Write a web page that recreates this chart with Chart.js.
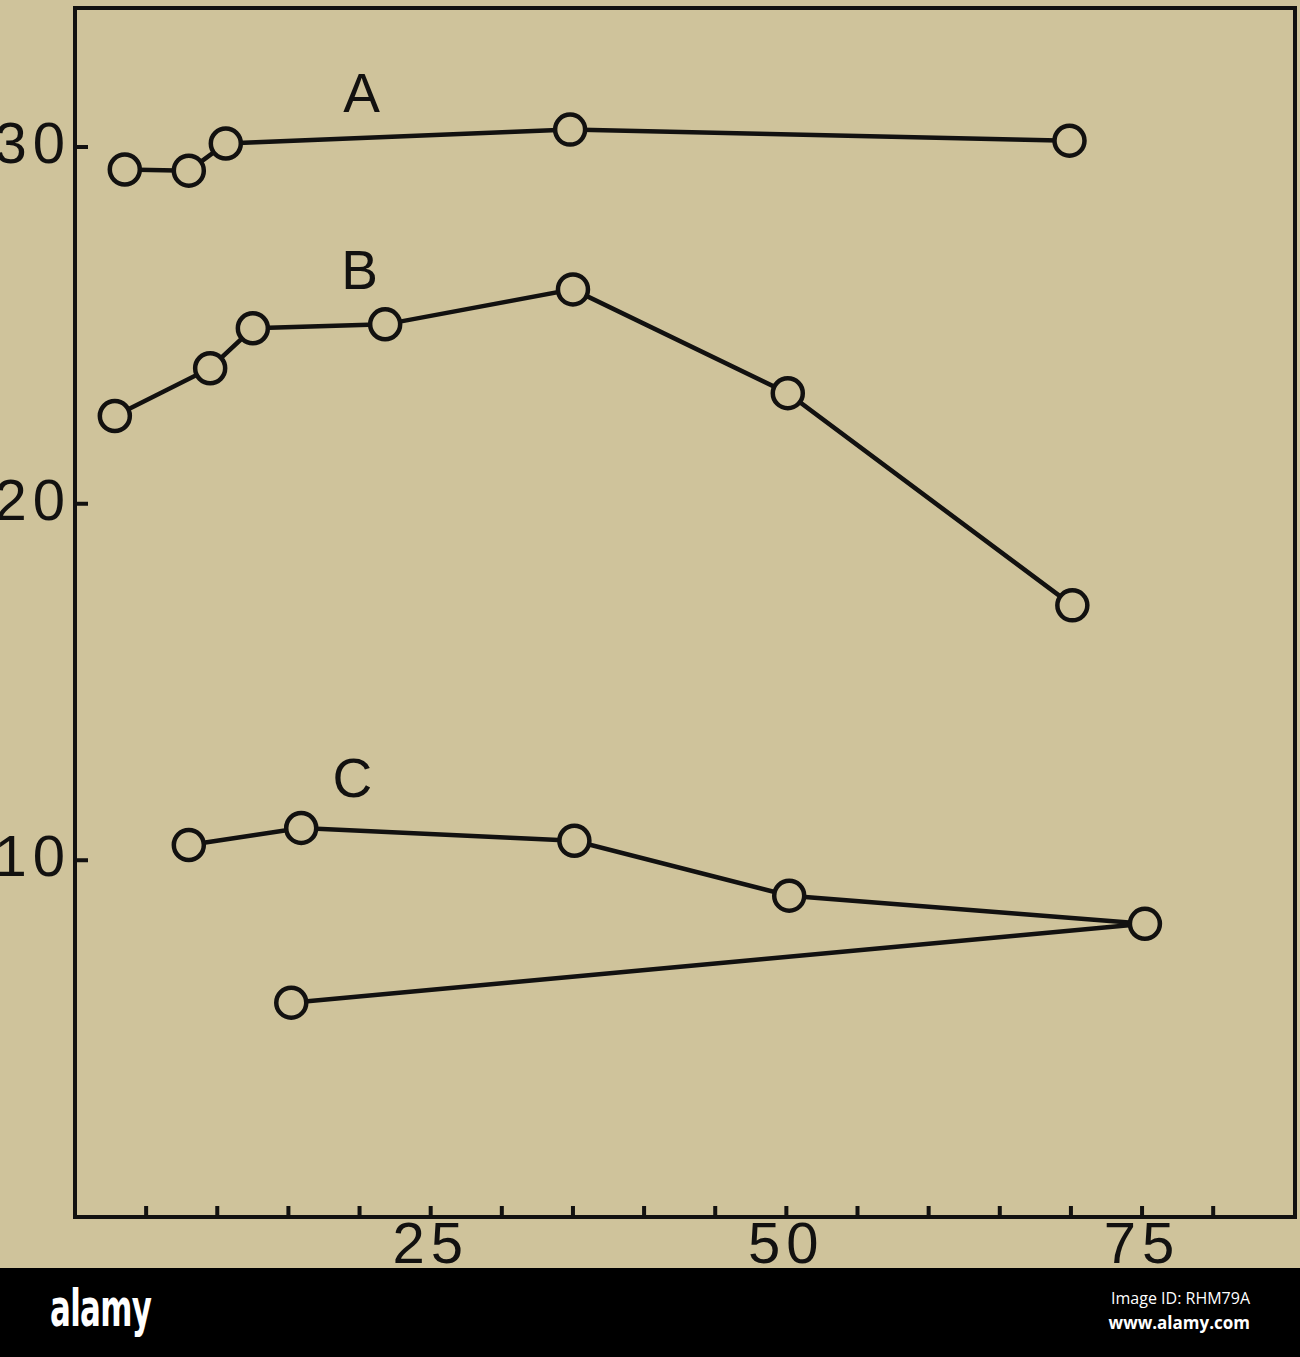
<!DOCTYPE html>
<html>
<head>
<meta charset="utf-8">
<script src="https://cdn.jsdelivr.net/npm/chart.js@4/dist/chart.umd.min.js"></script>
<style>
  html, body { margin: 0; padding: 0; background: #000; }
  #wrap { position: relative; width: 1300px; height: 1357px; overflow: hidden; background: #000; }
  #plot { position: absolute; left: 0; top: 0; width: 1300px; height: 1268px; background: #cfc39b; }
  #footer { position: absolute; left: 0; top: 1268px; width: 1300px; height: 89px; background: #000; }
  #logo { position: absolute; left: 50px; top: 14px; color: #fff; font-family: "Liberation Sans Narrow", "DejaVu Sans Condensed", "Liberation Sans", sans-serif; font-weight: bold; font-size: 52px; line-height: 1; transform: scaleX(0.66); transform-origin: left top; letter-spacing: -1px; }
  #imgid { position: absolute; right: 50px; top: 22px; color: #fff; font-family: "Open Sans", "DejaVu Sans", sans-serif; font-size: 16px; line-height: 1; }
  #site { position: absolute; right: 50px; top: 46px; color: #fff; font-family: "Open Sans", "DejaVu Sans", sans-serif; font-weight: bold; font-size: 17px; line-height: 1; }
</style>
</head>
<body>
<div id="wrap">
  <div id="plot"><canvas id="c" width="1300" height="1268"></canvas></div>
  <div id="footer">
    <div id="logo">alamy</div>
    <div id="imgid">Image ID: RHM79A</div>
    <div id="site">www.alamy.com</div>
  </div>
</div>
<script>
// ---- data ----
const seriesNames = ['A', 'B', 'C'];
const aX = [3.5, 8.0, 10.6, 34.8, 69.9];
const aY = [29.37, 29.34, 30.10, 30.49, 30.18];
const bX = [2.8, 9.5, 12.5, 21.8, 35.0, 50.1, 70.1];
const bY = [22.46, 23.80, 24.92, 25.03, 26.01, 23.10, 17.15];
const cX = [8.0, 15.9, 35.1, 50.2, 75.2, 15.2];
const cY = [10.43, 10.91, 10.55, 9.01, 8.22, 6.01];
const xTickLabels = [25, 50, 75];
const xTickMarks = [5, 10, 15, 20, 25, 30, 35, 40, 45, 50, 55, 60, 65, 70, 75, 80];
const yTickLabels = [10, 20, 30];
const xRange = [0, 85.75];
const yRange = [0, 33.9];
// where the series letters sit, in data units
const nameX = [20.15, 20.0, 19.5];
const nameY = [31.41, 26.46, 12.2];

const ink = '#121110';
const paper = '#cfc39b';

function pts(xs, ys) { return xs.map((v, i) => ({ x: v, y: ys[i] })); }
const seriesData = [pts(aX, aY), pts(bX, bY), pts(cX, cY)];

const framePlugin = {
  id: 'frame',
  beforeDraw(chart) {
    chart.ctx.letterSpacing = '6px';
  },
  afterDraw(chart) {
    const { ctx, chartArea: a, scales: { x, y } } = chart;
    ctx.save();
    ctx.letterSpacing = '0px';
    ctx.strokeStyle = ink;
    ctx.lineWidth = 4;
    ctx.strokeRect(a.left, a.top, a.right - a.left, a.bottom - a.top);
    ctx.beginPath();
    xTickMarks.forEach(v => {
      const px = x.getPixelForValue(v);
      ctx.moveTo(px, a.bottom);
      ctx.lineTo(px, a.bottom - 11);
    });
    yTickLabels.forEach(v => {
      const py = y.getPixelForValue(v);
      ctx.moveTo(a.left, py);
      ctx.lineTo(a.left + 13, py);
    });
    ctx.stroke();
    ctx.fillStyle = ink;
    ctx.font = '55px "Liberation Sans", Arial, sans-serif';
    ctx.textAlign = 'center';
    ctx.textBaseline = 'middle';
    seriesNames.forEach((n, i) => {
      ctx.fillText(n, x.getPixelForValue(nameX[i]), y.getPixelForValue(nameY[i]));
    });
    ctx.restore();
  }
};

const tickFont = { family: '"Liberation Sans", Arial, sans-serif', size: 58 };
function noPad(s) { s.paddingTop = 0; s.paddingBottom = 0; s.paddingLeft = 0; s.paddingRight = 0; }

new Chart(document.getElementById('c'), {
  type: 'scatter',
  data: {
    datasets: seriesData.map((d, i) => ({
      label: seriesNames[i],
      data: d,
      showLine: true,
      tension: 0,
      borderColor: ink,
      borderWidth: 4.5,
      pointRadius: 15,
      pointHoverRadius: 15,
      pointBorderWidth: 4.5,
      pointBorderColor: ink,
      pointBackgroundColor: paper,
      clip: false
    }))
  },
  options: {
    responsive: false,
    animation: false,
    devicePixelRatio: 1,
    layout: { autoPadding: false, padding: { top: 8, right: 5, left: 0, bottom: 0 } },
    plugins: { legend: { display: false }, tooltip: { enabled: false } },
    scales: {
      x: {
        type: 'linear',
        position: 'bottom',
        min: xRange[0],
        max: xRange[1],
        grid: { display: false, drawTicks: false },
        border: { display: false },
        afterBuildTicks: s => { s.ticks = xTickLabels.map(v => ({ value: v })); },
        afterFit: s => { s.height = 51; noPad(s); },
        ticks: { font: tickFont, color: ink, padding: -5, maxRotation: 0, autoSkip: false, callback: v => String(v) }
      },
      y: {
        type: 'linear',
        min: yRange[0],
        max: yRange[1],
        grid: { display: false, drawTicks: false },
        border: { display: false },
        afterBuildTicks: s => { s.ticks = yTickLabels.map(v => ({ value: v })); },
        afterFit: s => { s.width = 75; noPad(s); },
        ticks: { font: tickFont, color: ink, padding: 4, autoSkip: false, callback: v => String(v) }
      }
    }
  },
  plugins: [framePlugin]
});
</script>
</body>
</html>
